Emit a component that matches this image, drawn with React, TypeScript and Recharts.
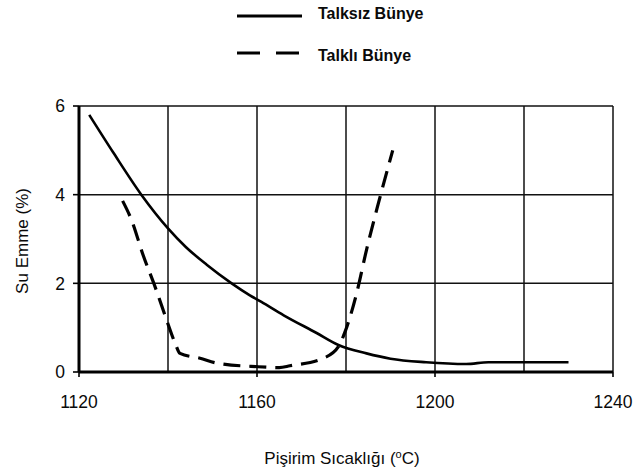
import React from 'react';
import { LineChart, Line, XAxis, YAxis, CartesianGrid, Legend, Label } from 'recharts';

const FONT = '"Liberation Sans", Arial, Helvetica, sans-serif';

const seriesNames = ['Talksız Bünye', 'Talklı Bünye'];

const talksizTemp = [1122.3, 1127.7, 1134, 1140, 1144, 1148.7, 1154.3, 1158.4, 1161, 1166, 1173.4, 1178.3, 1184.6, 1190, 1198, 1207, 1212, 1230];
const talksizEmme = [5.8, 4.95, 4.0, 3.24, 2.82, 2.42, 2.0, 1.73, 1.58, 1.28, 0.88, 0.61, 0.42, 0.3, 0.22, 0.18, 0.22, 0.22];

const talkliTemp = [1129.8, 1131.8, 1134.4, 1137.1, 1139.7, 1141.6, 1142.7, 1147.2, 1151, 1160, 1165, 1167.4, 1174.9, 1178.3, 1179.8, 1182.4, 1184.6, 1187, 1190.5];
const talkliEmme = [3.86, 3.43, 2.64, 1.92, 1.17, 0.65, 0.42, 0.31, 0.2, 0.12, 0.1, 0.14, 0.31, 0.57, 0.91, 1.78, 2.75, 3.7, 5.0];

const xGridTicks = [1120, 1140, 1160, 1180, 1200, 1220, 1240];
const xLabelTicks = [1120, 1160, 1200, 1240];
const yTicks = [0, 2, 4, 6];

const xTitle = 'Pişirim Sıcaklığı (';
const yTitle = 'Su Emme (%)';

const talksizData = talksizTemp.map((t, i) => ({ t, v: talksizEmme[i] }));
const talkliData = talkliTemp.map((t, i) => ({ t, v: talkliEmme[i] }));

const TICK_SIZE = 5;
const TICK_MARGIN = 19;

const XTick = (props: any) => {
  const { x, y, payload } = props;
  if (!xLabelTicks.includes(payload.value)) return <g />;
  const axisY = y - TICK_SIZE - TICK_MARGIN;
  return (
    <g>
      <line x1={x} x2={x} y1={axisY} y2={axisY + TICK_SIZE} stroke="#000" strokeWidth={1.6} />
      <text x={x} y={y} dy="0.71em" textAnchor="middle" fill="#0a0a0a" fontSize={17.5} fontFamily={FONT}>
        {payload.value}
      </text>
    </g>
  );
};

const XTitle = (props: any) => {
  const vb = props.viewBox;
  return (
    <text x={vb.x + vb.width / 2 - 4} y={vb.y + 92} textAnchor="middle" fill="#0a0a0a" fontSize={17} fontFamily={FONT}>
      {xTitle}
      <tspan fontSize={11} dy={-6}>o</tspan>
      <tspan dy={6}>C)</tspan>
    </text>
  );
};

const YTitle = (props: any) => {
  const vb = props.viewBox;
  const cx = 22.5;
  const cy = vb.y + vb.height / 2 + 2;
  return (
    <text
      x={cx}
      y={cy}
      transform={`rotate(-90, ${cx}, ${cy})`}
      textAnchor="middle"
      dominantBaseline="central"
      fill="#0a0a0a"
      fontSize={17}
      fontFamily={FONT}
    >
      {yTitle}
    </text>
  );
};

const LegendContent = () => (
  <svg width={636} height={70} style={{ display: 'block' }}>
    <line x1={237} x2={302} y1={16} y2={16} stroke="#000" strokeWidth={3} />
    <text x={318} y={19} fill="#0a0a0a" fontSize={16} fontWeight="bold" fontFamily={FONT}>
      {seriesNames[0]}
    </text>
    <line x1={237} x2={302} y1={53} y2={53} stroke="#000" strokeWidth={3} strokeDasharray="23 16" />
    <text x={318} y={61} fill="#0a0a0a" fontSize={16} fontWeight="bold" fontFamily={FONT}>
      {seriesNames[1]}
    </text>
  </svg>
);

export default function App() {
  return (
    <div style={{ position: 'absolute', left: 0, top: 0, width: 636, height: 470, background: '#fff' }}>
      <LineChart width={636} height={470} margin={{ top: 106, right: 23, left: 0, bottom: 0 }}>
        <CartesianGrid stroke="#111" strokeWidth={1.5} />
        <XAxis
          dataKey="t"
          type="number"
          domain={[1120, 1240]}
          ticks={xGridTicks}
          interval={0}
          height={98}
          tick={<XTick />}
          tickSize={TICK_SIZE}
          tickMargin={TICK_MARGIN}
          tickLine={{ stroke: 'transparent' }}
          axisLine={{ stroke: '#000', strokeWidth: 3 }}
          allowDataOverflow
        >
          <Label content={<XTitle />} />
        </XAxis>
        <YAxis
          type="number"
          domain={[0, 6]}
          ticks={yTicks}
          interval={0}
          width={79}
          tickSize={6}
          tickMargin={8}
          tick={{ fill: '#0a0a0a', fontSize: 17.5, fontFamily: FONT }}
          tickLine={{ stroke: '#000', strokeWidth: 1.6 }}
          axisLine={{ stroke: '#000', strokeWidth: 3 }}
        >
          <Label content={<YTitle />} />
        </YAxis>
        <Legend
          layout="vertical"
          align="center"
          verticalAlign="middle"
          wrapperStyle={{ top: 0, left: 0, width: 636, height: 70 }}
          content={<LegendContent />}
        />
        <Line
          data={talksizData}
          dataKey="v"
          name={seriesNames[0]}
          type="monotone"
          stroke="#000"
          strokeWidth={2.6}
          dot={false}
          isAnimationActive={false}
        />
        <Line
          data={talkliData}
          dataKey="v"
          name={seriesNames[1]}
          type="monotone"
          stroke="#000"
          strokeWidth={3.2}
          strokeDasharray="17 9"
          dot={false}
          isAnimationActive={false}
        />
      </LineChart>
    </div>
  );
}
